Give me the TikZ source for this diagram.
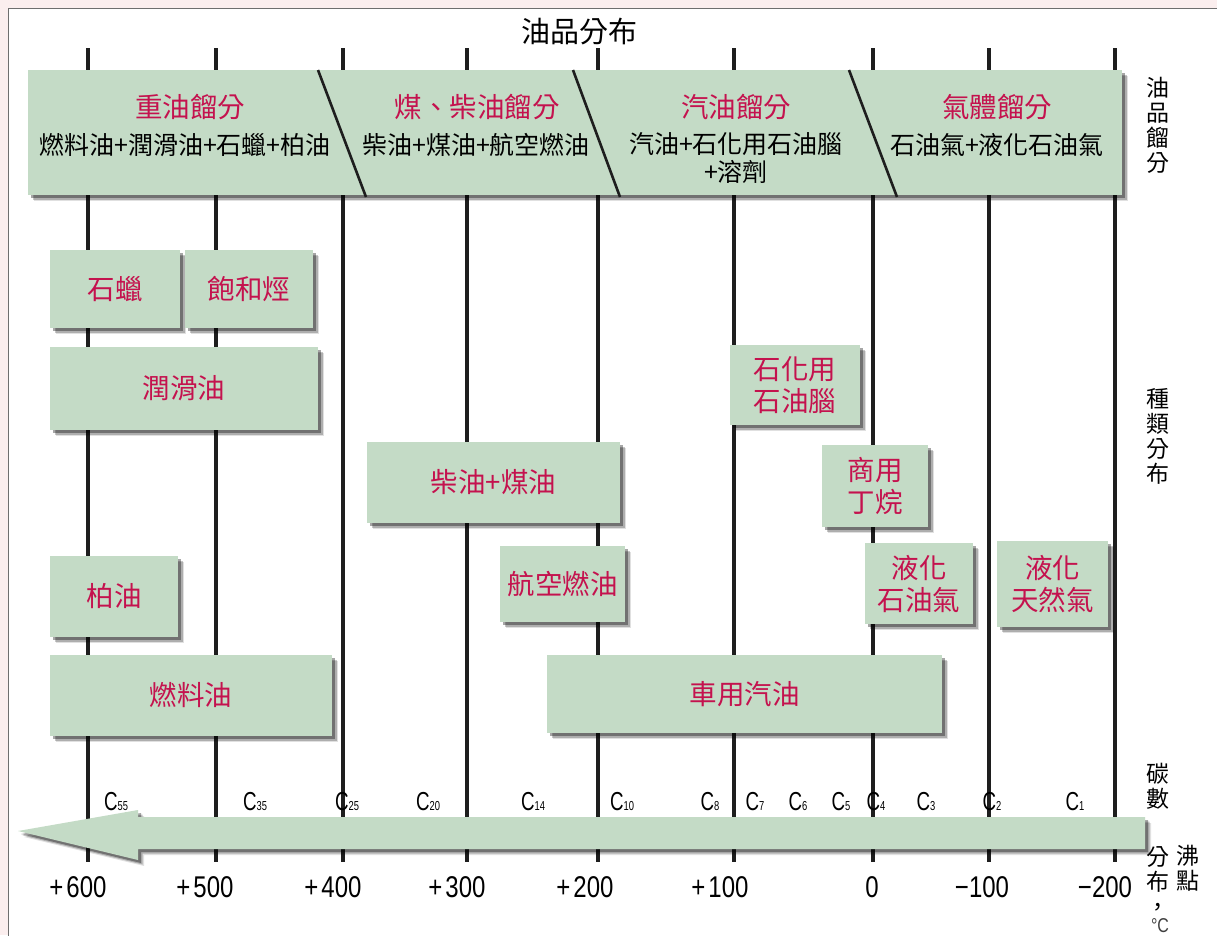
\documentclass[tikz,border=0pt]{standalone}
\usepackage{fontspec}
\setmainfont{Liberation Sans}
\newfontfamily\cjk{Noto Sans CJK TC}
\newfontfamily\condf[FakeStretch=0.8]{Liberation Sans}
\newfontfamily\condc[FakeStretch=0.72]{Liberation Sans}
\usetikzlibrary{shadows}
\definecolor{boxgreen}{RGB}{196,219,198}
\definecolor{lblred}{RGB}{196,18,78}
\definecolor{bgpink}{RGB}{251,238,238}
\definecolor{framegray}{RGB}{110,110,110}
\definecolor{axisline}{RGB}{30,30,30}
\tikzset{
  softshadow/.style={
    drop shadow={shadow xshift=6pt, shadow yshift=-6pt, fill=black, opacity=0.12},
    drop shadow={shadow xshift=4.5pt, shadow yshift=-4.5pt, fill=black, opacity=0.22},
    drop shadow={shadow xshift=3pt, shadow yshift=-3pt, fill=black, opacity=0.35}},
  gbox/.style={fill=boxgreen, draw=none, inner sep=0pt, softshadow},
  redlbl/.style={text=lblred, font=\cjk\fontsize{27.5}{32}\selectfont, align=center},
  blklbl/.style={text=black, font=\cjk\fontsize{25}{28}\selectfont, align=center},
  sidelbl/.style={text=black, font=\cjk\fontsize{23}{25}\selectfont, align=center, inner sep=0pt},
  templbl/.style={text=black, font=\condf\fontsize{30}{32}\selectfont, inner sep=0pt},
  carblbl/.style={text=black, font=\condc\fontsize{26}{28}\selectfont, inner sep=0pt},
  gridline/.style={draw=axisline, line width=3.2pt},
  divider/.style={draw=axisline, line width=2.6pt}
}
\newcommand{\sbn}[1]{{\fontsize{13}{13}\selectfont #1}}
\begin{document}
\begin{tikzpicture}[x=1pt, y=-1pt]
\useasboundingbox (0,0) rectangle (1217,935);
% background and frame
\fill[bgpink] (0,0) rectangle (1217,935);
\draw[fill=white, draw=framegray, line width=1.4pt] (8.5,8.5) rectangle (1240,960);

% title
\node[text=black, font=\cjk\fontsize{29}{32}\selectfont] (title) at (579,32) {油品分布};

% vertical grid lines
\foreach \x in {88,216,343,467,598,734,873,989,1115} {
  \draw[gridline] (\x,48) -- (\x,862);
}

% banner
\fill[boxgreen, softshadow]
  (28,70) -- (1122,70) -- (1122,195) -- (28,195) -- cycle;
\draw[divider] (318,70) -- (366,197);
\draw[divider] (573,70) -- (620,197);
\draw[divider] (849,70) -- (897,197);

\node[redlbl] (h1) at (190,107) {重油餾分};
\node[blklbl] (s1) at (185,145) {燃料油+潤滑油+石蠟+柏油};
\node[redlbl] (h2) at (477,107) {煤、柴油餾分};
\node[blklbl] (s2) at (476,145) {柴油+煤油+航空燃油};
\node[redlbl] (h3) at (736,107) {汽油餾分};
\node[blklbl] (s3) at (736,158) {汽油+石化用石油腦\\+溶劑};
\node[redlbl] (h4) at (997,107) {氣體餾分};
\node[blklbl] (s4) at (997,145) {石油氣+液化石油氣};

% product boxes
\node[gbox, redlbl, minimum width=130pt, minimum height=78pt] (wax) at (115,289) {石蠟};
\node[gbox, redlbl, minimum width=128pt, minimum height=78pt] (sat) at (249,289) {飽和烴};
\node[gbox, redlbl, minimum width=268pt, minimum height=83pt] (lube) at (184,388.5) {潤滑油};
\node[gbox, redlbl, minimum width=130pt, minimum height=80pt] (naph) at (795,385) {石化用\\石油腦};
\node[gbox, redlbl, minimum width=253pt, minimum height=81pt] (dsl) at (493.5,482.5) {柴油+煤油};
\node[gbox, redlbl, minimum width=106pt, minimum height=82pt] (but) at (875,486) {商用\\丁烷};
\node[gbox, redlbl, minimum width=128pt, minimum height=81pt] (asph) at (114,596.5) {柏油};
\node[gbox, redlbl, minimum width=125pt, minimum height=76pt] (jet) at (562.5,584) {航空燃油};
\node[gbox, redlbl, minimum width=108pt, minimum height=81pt] (lpg) at (919,583.5) {液化\\石油氣};
\node[gbox, redlbl, minimum width=111pt, minimum height=86pt] (lng) at (1052.5,584) {液化\\天然氣};
\node[gbox, redlbl, minimum width=282pt, minimum height=81pt] (fuel) at (191,695.5) {燃料油};
\node[gbox, redlbl, minimum width=395pt, minimum height=78pt] (gas) at (744.5,694) {車用汽油};

% side labels
\node[sidelbl] (sideA) at (1158,125) {油\\品\\餾\\分};
\node[sidelbl] (sideB) at (1158,436) {種\\類\\分\\布};
\node[sidelbl] (sideC) at (1158,786) {碳\\數};
\node[sidelbl] (sideD) at (1188,868) {沸\\點};
\node[sidelbl] (sideE) at (1158,881) {分\\布\\，};
\node[text=black!75, font=\condf\fontsize{20}{20}\selectfont, inner sep=0pt] (degc) at (1160,926) {°C};

% carbon numbers
\node[carblbl] (c55) at (116,802) {C\sbn{55}};
\node[carblbl] (c35) at (255,802) {C\sbn{35}};
\node[carblbl] (c25) at (347,802) {C\sbn{25}};
\node[carblbl] (c20) at (428,802) {C\sbn{20}};
\node[carblbl] (c14) at (533,802) {C\sbn{14}};
\node[carblbl] (c10) at (622,802) {C\sbn{10}};
\node[carblbl] (c8) at (710,802) {C\sbn{8}};
\node[carblbl] (c7) at (755,802) {C\sbn{7}};
\node[carblbl] (c6) at (798,802) {C\sbn{6}};
\node[carblbl] (c5) at (841,802) {C\sbn{5}};
\node[carblbl] (c4) at (876,802) {C\sbn{4}};
\node[carblbl] (c3) at (926,802) {C\sbn{3}};
\node[carblbl] (c2) at (992,802) {C\sbn{2}};
\node[carblbl] (c1) at (1075,802) {C\sbn{1}};

% boiling point arrow
\fill[boxgreen, softshadow]
  (18,831) -- (138,810) -- (138,817) -- (1145,817) -- (1145,849) -- (138,849) -- (138,860) -- cycle;

% temperatures
\node[templbl] (t600) at (78,887) {+\kern3pt 600};
\node[templbl] (t500) at (205,887) {+\kern3pt 500};
\node[templbl] (t400) at (333,887) {+\kern3pt 400};
\node[templbl] (t300) at (457,887) {+\kern3pt 300};
\node[templbl] (t200) at (585,887) {+\kern3pt 200};
\node[templbl] (t100) at (720,887) {+\kern3pt 100};
\node[templbl] (t0) at (872,887) {0};
\node[templbl] (tm100) at (982,887) {−100};
\node[templbl] (tm200) at (1105,887) {−200};
\end{tikzpicture}
\end{document}
